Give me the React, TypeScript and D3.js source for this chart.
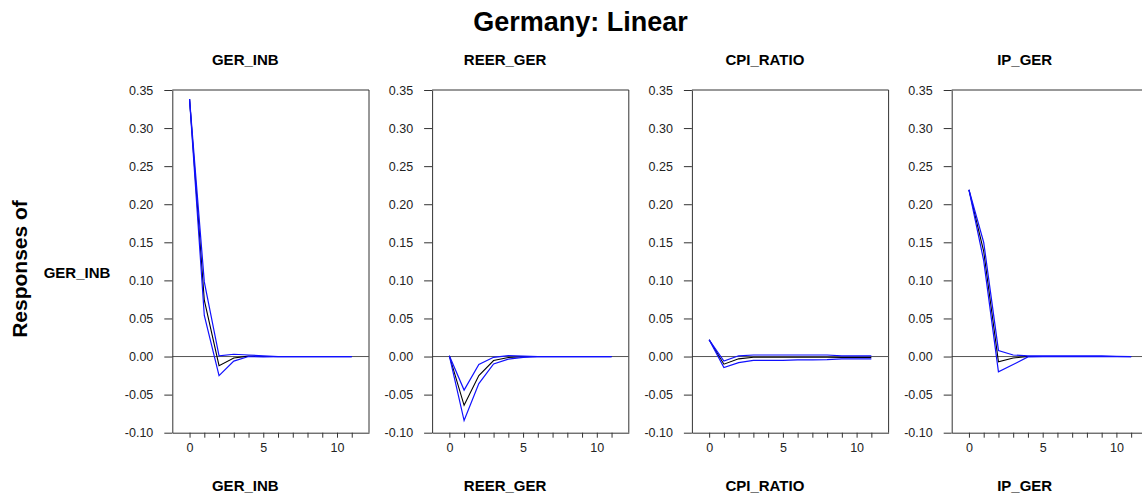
import React, { useEffect, useRef } from "react";
import * as d3 from "d3";

// Impulse responses of GER_INB to shocks in each variable, horizons 0..11
const horizons = d3.range(0, 12);
const shockNames = ["GER_INB", "REER_GER", "CPI_RATIO", "IP_GER"];

const respGerInb = [0.338, 0.074, -0.012, -0.002, 0.0005, 0, 0, 0, 0, 0, 0, 0];
const upperGerInb = [0.338, 0.098, 0.001, 0.003, 0.002, 0.001, 0, 0, 0, 0, 0, 0];
const lowerGerInb = [0.338, 0.054, -0.025, -0.006, 0, -0.0005, 0, 0, 0, 0, 0, 0];

const respReer = [0.001, -0.064, -0.025, -0.0053, -0.0013, -0.0002, 0, 0, 0, 0, 0, 0];
const upperReer = [0.001, -0.044, -0.0105, -0.001, 0.0013, 0.0005, 0, 0, 0, 0, 0, 0];
const lowerReer = [0.001, -0.084, -0.0355, -0.0097, -0.0035, -0.001, 0, 0, 0, 0, 0, 0];

const respCpi = [0.022, -0.01, -0.003, -0.001, -0.001, -0.001, -0.001, -0.001, -0.001, -0.0013, -0.0013, -0.0013];
const upperCpi = [0.022, -0.006, 0.001, 0.002, 0.002, 0.002, 0.002, 0.002, 0.002, 0.001, 0.001, 0.001];
const lowerCpi = [0.022, -0.0145, -0.008, -0.005, -0.005, -0.005, -0.0045, -0.0045, -0.004, -0.003, -0.003, -0.003];

const respIp = [0.219, 0.138, -0.007, -0.002, 0, 0, 0, 0, 0, 0, 0, 0];
const upperIp = [0.219, 0.15, 0.008, 0.002, 0.001, 0.001, 0.001, 0.001, 0.001, 0.0008, 0.0003, 0];
const lowerIp = [0.219, 0.126, -0.02, -0.0105, -0.0005, 0, 0, 0, 0, 0, 0, 0];

const yTicks = [-0.1, -0.05, 0, 0.05, 0.1, 0.15, 0.2, 0.25, 0.3, 0.35];
const xTicks = d3.range(0, 12);
const xLabelTicks = [0, 5, 10];

const panels = [
  { name: shockNames[0], resp: respGerInb, upper: upperGerInb, lower: lowerGerInb },
  { name: shockNames[1], resp: respReer, upper: upperReer, lower: lowerReer },
  { name: shockNames[2], resp: respCpi, upper: upperCpi, lower: lowerCpi },
  { name: shockNames[3], resp: respIp, upper: upperIp, lower: lowerIp },
];

const W = 1142;
const H = 494;
const FONT = "'Liberation Sans', Arial, Helvetica, sans-serif";
const plotLeft0 = 172.3;
const panelStep = 259.8;
const plotW = 196.7;
const plotTop = 90;
const plotBottom = 432.7;

function Panel({ idx }: { idx: number }) {
  const axRef = useRef<SVGGElement>(null);
  const p = panels[idx];
  const left = plotLeft0 + idx * panelStep;
  const x = d3.scaleLinear().domain([-1.17, 12.17]).range([left, left + plotW]);
  const y = d3.scaleLinear().domain([-0.1, 0.35]).range([plotBottom, plotTop]);
  const line = d3
    .line<number>()
    .x((_, i) => x(horizons[i]))
    .y((v) => y(v));

  useEffect(() => {
    const g = d3.select(axRef.current);
    g.selectAll("*").remove();
    const yAxis = d3
      .axisLeft(y)
      .tickValues(yTicks)
      .tickSize(8)
      .tickSizeOuter(0)
      .tickPadding(11)
      .tickFormat((d) => (d as number).toFixed(2));
    const xAxis = d3
      .axisBottom(x)
      .tickValues(xTicks)
      .tickSize(5)
      .tickSizeOuter(0)
      .tickPadding(5.5)
      .tickFormat((d) => (xLabelTicks.includes(d as number) ? String(d) : ""));
    const ya = g.append("g").attr("transform", `translate(${left},0)`).call(yAxis);
    const xa = g.append("g").attr("transform", `translate(0,${plotBottom})`).call(xAxis);
    [ya, xa].forEach((a) => {
      a.attr("font-family", FONT).attr("font-size", 12.5);
      a.selectAll("path,line").attr("stroke", "#333").attr("stroke-width", 1);
      a.selectAll("text").attr("fill", "#222");
    });
  }, [idx]);

  return (
    <g>
      <line x1={left} x2={left + plotW} y1={plotTop} y2={plotTop} stroke="#333" />
      <line x1={left + plotW} x2={left + plotW} y1={plotTop} y2={plotBottom} stroke="#333" />
      <line x1={left} x2={left + plotW} y1={y(0)} y2={y(0)} stroke="#555" strokeWidth={1} />
      <g ref={axRef} />
      <path d={line(p.resp) || ""} fill="none" stroke="#000" strokeWidth={1.1} />
      <path d={line(p.upper) || ""} fill="none" stroke="#1010ff" strokeWidth={1.2} />
      <path d={line(p.lower) || ""} fill="none" stroke="#1010ff" strokeWidth={1.2} />
      <text x={left + 73} y={65} textAnchor="middle" fontWeight="bold" fontSize={15} fontFamily={FONT} fill="#000">
        {p.name}
      </text>
      <text x={left + 73} y={490.5} textAnchor="middle" fontWeight="bold" fontSize={15} fontFamily={FONT} fill="#000">
        {p.name}
      </text>
    </g>
  );
}

export default function App() {
  return (
    <svg
      width={W}
      height={H}
      viewBox={`0 0 ${W} ${H}`}
      style={{ position: "absolute", left: 0, top: 0, background: "#fff" }}
    >
      <rect x={0} y={0} width={W} height={H} fill="#fff" />
      <text x={580.5} y={31} textAnchor="middle" fontWeight="bold" fontSize={27} fontFamily={FONT} fill="#000">
        Germany: Linear
      </text>
      <text
        transform="translate(26.5,269) rotate(-90)"
        textAnchor="middle"
        fontWeight="bold"
        fontSize={21}
        fontFamily={FONT}
        fill="#000"
      >
        Responses of
      </text>
      <text x={77} y={277.5} textAnchor="middle" fontWeight="bold" fontSize={15} fontFamily={FONT} fill="#000">
        GER_INB
      </text>
      {panels.map((_, i) => (
        <Panel key={i} idx={i} />
      ))}
    </svg>
  );
}
